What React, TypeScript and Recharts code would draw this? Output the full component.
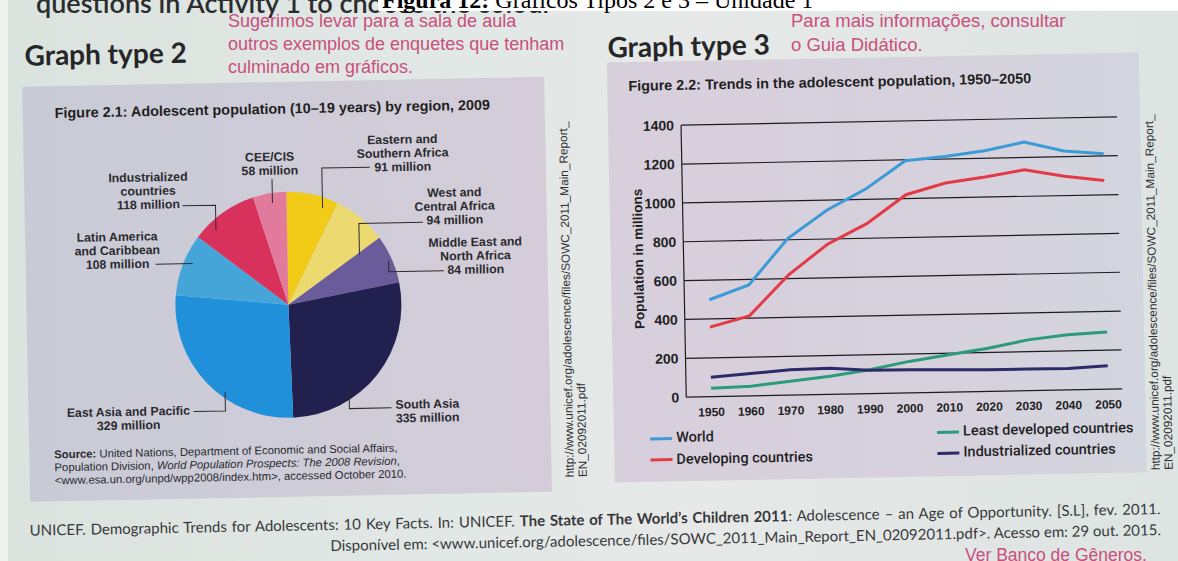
import React from "react";
import { PieChart, Pie, Cell, LineChart, Line, XAxis, YAxis, CartesianGrid } from "recharts";

// Figure 2.1: adolescents (10-19 years) by region, 2009, millions
const regionNames = [
  "Eastern and\nSouthern Africa",
  "West and\nCentral Africa",
  "Middle East and\nNorth Africa",
  "South Asia",
  "East Asia and Pacific",
  "Latin America\nand Caribbean",
  "Industrialized\ncountries",
  "CEE/CIS",
];
const regionMillions = [91, 94, 84, 335, 329, 108, 118, 58];
const regionColors = ["#f1cb17", "#ecd96f", "#6a5b9b", "#22204e", "#2190da", "#45a5d9", "#d8315b", "#e27a9b"];

// Figure 2.2: adolescent population 1950-2050, millions
const years = ["1950", "1960", "1970", "1980", "1990", "2000", "2010", "2020", "2030", "2040", "2050"];
const worldPop = [499, 571, 806, 948, 1055, 1195, 1213, 1239, 1279, 1229, 1211];
const developingPop = [358, 412, 618, 773, 875, 1020, 1076, 1103, 1137, 1099, 1074];
const leastDevelopedPop = [44, 50, 71, 93, 123, 162, 192, 222, 261, 283, 294];
const industrializedPop = [100, 115, 131, 134, 120, 119, 115, 111, 111, 110, 120];
const popTicks = [0, 200, 400, 600, 800, 1000, 1200, 1400];

const seriesKeys = ["world", "developing", "least", "industrialized"];
const seriesNames = ["World", "Developing countries", "Least developed countries", "Industrialized countries"];
const seriesColors = ["#3c9bd7", "#e23b45", "#2a9b7b", "#2c2a69"];

const regionData = regionNames.map((name, i) => ({ name, value: regionMillions[i] }));
const trendData = years.map((year, i) => ({
  year,
  world: worldPop[i],
  developing: developingPop[i],
  least: leastDevelopedPop[i],
  industrialized: industrializedPop[i],
}));

const sans = "'Liberation Sans', Arial, sans-serif";
const book = "Lato, 'Noto Sans', sans-serif";
const pink = "#c94f7d";

// pie geometry inside its svg
const PIE_CX = 257;
const PIE_CY = 218;

// where each region's text sits (first line centre) and its leader, relative to the pie centre
const labelSpots: { x: number; y: number; leader: number[][] }[] = [
  { x: 117, y: -163, leader: [[84, -136], [36, -136], [36, -96]] },
  { x: 168, y: -109, leader: [[136, -80], [72, -80], [72, -49]] },
  { x: 188, y: -59, leader: [[156, -31], [101, -31], [101, -42]] },
  { x: 137, y: 102, leader: [[101, 105], [59, 105], [59, 84]] },
  { x: -162, y: 104, leader: [[-97, 105], [-65, 105], [-65, 86]] },
  { x: -170, y: -71, leader: [[-132, -43], [-95, -43]] },
  { x: -138, y: -130, leader: [[-104, -101], [-71, -101], [-71, -76]] },
  { x: -16, y: -148, leader: [[-14, -126], [-14, -102]] },
];

const renderRegionLabel = (props: any) => {
  const { index, value } = props;
  const cx = props.cx ?? PIE_CX;
  const cy = props.cy ?? PIE_CY;
  const spot = labelSpots[index];
  const lines = [...regionNames[index].split("\n"), `${value} million`];
  return (
    <g key={`lbl-${index}`}>
      <polyline
        points={spot.leader.map(([x, y]) => `${cx + x},${cy + y}`).join(" ")}
        fill="none"
        stroke="#2b2b2e"
        strokeWidth={1}
      />
      <text
        x={cx + spot.x}
        y={cy + spot.y}
        textAnchor="middle"
        dominantBaseline="central"
        fontFamily={sans}
        fontWeight={700}
        fontSize={12.3}
        fill="#2a2a2d"
      >
        {lines.map((line, i) => (
          <tspan key={i} x={cx + spot.x} dy={i === 0 ? 0 : 13.7}>
            {line}
          </tspan>
        ))}
      </text>
    </g>
  );
};

function At({ x, y, children, style }: { x: number; y: number; children: React.ReactNode; style?: React.CSSProperties }) {
  return (
    <div
      style={{
        position: "absolute",
        left: x,
        top: y,
        transform: "translateY(-50%)",
        whiteSpace: "nowrap",
        lineHeight: 1.15,
        ...style,
      }}
    >
      {children}
    </div>
  );
}

function Key({ x, y, color, label }: { x: number; y: number; color: string; label: string }) {
  return (
    <At x={x} y={y} style={{ display: "flex", alignItems: "center", fontFamily: "Roboto, sans-serif", fontWeight: 500, fontSize: 14.5, color: "#1f1f24" }}>
      <span style={{ display: "inline-block", width: 22, height: 3, background: color, marginRight: 4 }} />
      {label}
    </At>
  );
}

function VerticalUrl({ x, bottom }: { x: number; bottom: number }) {
  return (
    <div
      style={{
        position: "absolute",
        left: x,
        top: bottom,
        transform: "rotate(-90deg)",
        transformOrigin: "0 0",
        whiteSpace: "nowrap",
        fontFamily: sans,
        fontSize: 11.8,
        lineHeight: "12.5px",
        color: "#2e2e33",
      }}
    >
      <div>http://www.unicef.org/adolescence/files/SOWC_2011_Main_Report_</div>
      <div>EN_02092011.pdf</div>
    </div>
  );
}

function RegionPie() {
  return (
    <div style={{ position: "absolute", left: 26, top: 76 }}>
      <PieChart width={522} height={415}>
        <Pie
          data={regionData}
          dataKey="value"
          nameKey="name"
          cx={PIE_CX}
          cy={PIE_CY}
          outerRadius={113}
          startAngle={90}
          endAngle={-270}
          stroke="none"
          label={renderRegionLabel}
          labelLine={false}
          isAnimationActive={false}
        >
          {regionData.map((d, i) => (
            <Cell key={d.name} fill={regionColors[i]} />
          ))}
        </Pie>
      </PieChart>
    </div>
  );
}

function TrendChart() {
  return (
    <div style={{ position: "absolute", left: 600, top: 100 }}>
      <LineChart width={540} height={330} data={trendData} margin={{ top: 27, right: 20, left: 34, bottom: 5 }}>
        <CartesianGrid vertical={false} stroke="#1d1d21" strokeWidth={1.2} />
        <XAxis
          dataKey="year"
          height={26}
          axisLine={false}
          tickLine={false}
          tickSize={0}
          tickMargin={11}
          interval={0}
          padding={{ left: 25, right: 14 }}
          tick={{ fill: "#222", fontSize: 12, fontWeight: 700, fontFamily: sans }}
        />
        <YAxis
          width={50}
          domain={[0, 1400]}
          ticks={popTicks}
          interval={0}
          axisLine={{ stroke: "#1d1d21", strokeWidth: 1.2 }}
          tickLine={false}
          tickSize={0}
          tickMargin={7}
          tick={{ fill: "#222", fontSize: 14, fontWeight: 700, fontFamily: sans }}
        />
        {seriesKeys.map((key, i) => (
          <Line
            key={key}
            type="linear"
            dataKey={key}
            name={seriesNames[i]}
            stroke={seriesColors[i]}
            strokeWidth={3}
            dot={false}
            isAnimationActive={false}
          />
        ))}
      </LineChart>
    </div>
  );
}

export default function App() {
  return (
    <div
      style={{
        position: "absolute",
        left: 0,
        top: 0,
        width: 1178,
        height: 561,
        overflow: "hidden",
        background: "linear-gradient(90deg, #dbe3df 0%, #e2e8e5 40%, #e6e9e8 60%, #dde4e1 100%)",
      }}
    >
      {/* book line cut off by the top of the page */}
      <svg style={{ position: "absolute", left: 0, top: 0 }} width={1178} height={40}>
        <text x={36} y={12.5} fontFamily={book} fontWeight={600} fontSize={27} fill="#2c2c2e">
          questions in Activity 1 to choose the colour
        </text>
      </svg>

      {/* photographed book page, slightly tilted */}
      <div style={{ position: "absolute", left: 0, top: 0, width: 1178, height: 561, transform: "rotate(-1.1deg)", transformOrigin: "589px 280px" }}>
        <At x={29} y={44} style={{ fontFamily: book, fontWeight: 700, fontSize: 28, color: "#262628" }}>
          Graph type 2
        </At>
        <At x={612} y={47} style={{ fontFamily: book, fontWeight: 700, fontSize: 28, color: "#262628" }}>
          Graph type 3
        </At>

        <div style={{ position: "absolute", left: 26, top: 76, width: 522, height: 415, background: "linear-gradient(90deg, #c8cbd6 0%, #cfccd8 60%, #d4cdd9 100%)" }} />
        <div style={{ position: "absolute", left: 611, top: 63, width: 532, height: 420, background: "linear-gradient(90deg, #d8cfdc 0%, #d6d1dd 60%, #d3d5df 100%)" }} />

        <At x={58} y={103} style={{ fontFamily: sans, fontWeight: 700, fontSize: 14.4, color: "#1f1f22" }}>
          Figure 2.1: Adolescent population (10–19 years) by region, 2009
        </At>
        <RegionPie />
        <div style={{ position: "absolute", left: 51, top: 438, fontFamily: sans, fontSize: 11.3, lineHeight: "13px", color: "#2a2a2e", whiteSpace: "nowrap" }}>
          <div>
            <b>Source:</b> United Nations, Department of Economic and Social Affairs,
          </div>
          <div>
            Population Division, <i>World Population Prospects: The 2008 Revision</i>,
          </div>
          <div>{"<www.esa.un.org/unpd/wpp2008/index.htm>, accessed October 2010."}</div>
        </div>

        <At x={632} y={87} style={{ fontFamily: sans, fontWeight: 700, fontSize: 14.4, color: "#1f1f22" }}>
          Figure 2.2: Trends in the adolescent population, 1950–2050
        </At>
        <TrendChart />
        <div
          style={{
            position: "absolute",
            left: 639,
            top: 260,
            transform: "translate(-50%, -50%) rotate(-90deg)",
            whiteSpace: "nowrap",
            fontFamily: sans,
            fontWeight: 700,
            fontSize: 13.5,
            color: "#222",
          }}
        >
          Population in millions
        </div>
        <Key x={647} y={440} color={seriesColors[0]} label={seriesNames[0]} />
        <Key x={647} y={461.5} color={seriesColors[1]} label={seriesNames[1]} />
        <Key x={934} y={439} color={seriesColors[2]} label={seriesNames[2]} />
        <Key x={934} y={460} color={seriesColors[3]} label={seriesNames[3]} />

        <VerticalUrl x={560} bottom={477} />
        <VerticalUrl x={1146} bottom={481} />

        <div
          style={{
            position: "absolute",
            left: 25,
            top: 519,
            width: 1131,
            transform: "translateY(-50%)",
            fontFamily: book,
            fontSize: 15,
            color: "#38383c",
            whiteSpace: "nowrap",
            textAlign: "justify",
            textAlignLast: "justify",
          }}
        >
          UNICEF. Demographic Trends for Adolescents: 10 Key Facts. In: UNICEF. <b>The State of The World’s Children 2011</b>: Adolescence – an Age of Opportunity. [S.L], fev. 2011.
        </div>
        <div
          style={{
            position: "absolute",
            left: 25,
            top: 539.5,
            width: 1131,
            transform: "translateY(-50%)",
            fontFamily: book,
            fontSize: 15,
            color: "#38383c",
            whiteSpace: "nowrap",
            textAlign: "right",
          }}
        >
          {"Disponível em: <www.unicef.org/adolescence/files/SOWC_2011_Main_Report_EN_02092011.pdf>. Acesso em: 29 out. 2015."}
        </div>
      </div>

      {/* document layer on top of the photo */}
      <svg style={{ position: "absolute", left: 0, top: 0 }} width={1178} height={561}>
        <rect x={0} y={0} width={8} height={561} fill="#eef2ef" />
        <rect x={378} y={0} width={800} height={11} fill="#ffffff" />
        <text x={382} y={7.5} fontFamily="'Liberation Serif', 'Times New Roman', serif" fontSize={24} fill="#000">
          <tspan fontWeight={700}>Figura 12:</tspan> Gráficos Tipos 2 e 3 – Unidade 1
        </text>
      </svg>

      <div style={{ position: "absolute", left: 228, top: 9.5, fontFamily: sans, fontSize: 18, lineHeight: "23px", color: pink, whiteSpace: "nowrap" }}>
        <div>Sugerimos levar para a sala de aula</div>
        <div>outros exemplos de enquetes que tenham</div>
        <div>culminado em gráficos.</div>
      </div>
      <div style={{ position: "absolute", left: 791, top: 9, fontFamily: sans, fontSize: 18.5, lineHeight: "24px", color: pink, whiteSpace: "nowrap" }}>
        <div>Para mais informações, consultar</div>
        <div>o Guia Didático.</div>
      </div>
      <At x={965} y={555} style={{ fontFamily: sans, fontSize: 17.5, color: pink }}>
        Ver Banco de Gêneros.
      </At>
    </div>
  );
}
